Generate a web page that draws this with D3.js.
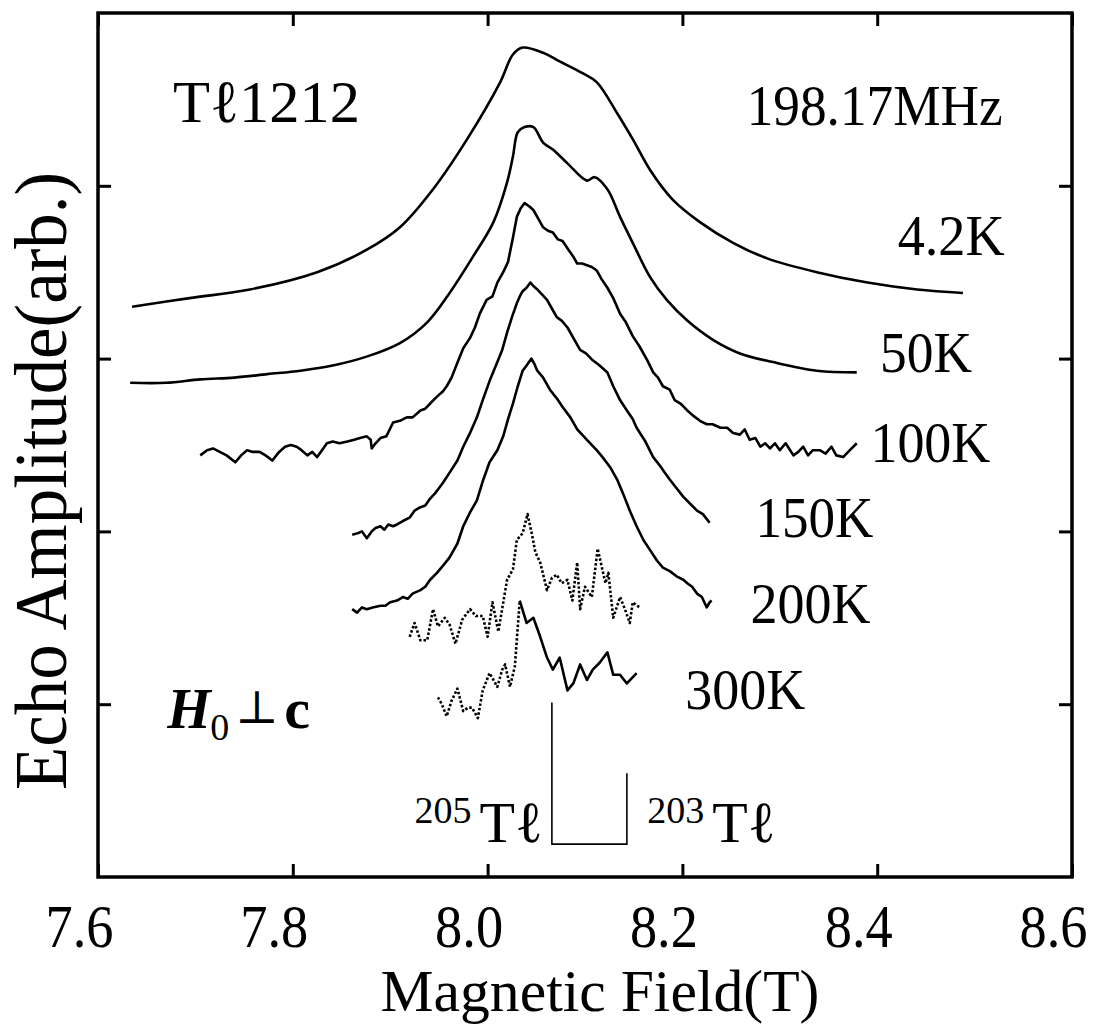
<!DOCTYPE html>
<html lang="en">
<head>
    <meta charset="UTF-8">
    <title>Tl1212 NMR spectra</title>
    <script src="https://cdn.jsdelivr.net/npm/d3@7"></script>
    <style>
        body { margin: 0; background: #fff; }
    </style>
</head>
<body>
    <div id="chart"></div>
    <script>
        // tick values
        let fieldTicks = [7.6, 7.8, 8.0, 8.2, 8.4, 8.6]
        let ampTicks = [1, 2, 3, 4]

        // spectra, [field (T), echo amplitude (arb.)]
        let echo42K = [[7.635,3.30],[7.694,3.35],[7.756,3.40],[7.825,3.50],[7.876,3.63],[7.910,3.76],[7.944,3.98],[7.979,4.27],[8.013,4.60],[8.026,4.76],[8.036,4.80],[8.057,4.77],[8.074,4.72],[8.098,4.65],[8.112,4.60],[8.133,4.42],[8.149,4.27],[8.167,4.09],[8.190,3.92],[8.218,3.79],[8.252,3.67],[8.287,3.58],[8.338,3.50],[8.390,3.44],[8.441,3.40],[8.488,3.38]]

        let echo50K = [[7.633,2.86],[7.670,2.86],[7.705,2.88],[7.740,2.89],[7.774,2.91],[7.808,2.93],[7.841,2.96],[7.875,3.01],[7.910,3.09],[7.938,3.21],[7.961,3.38],[7.985,3.59],[8.006,3.79],[8.020,4.02],[8.026,4.17],[8.031,4.31],[8.038,4.34],[8.047,4.34],[8.057,4.25],[8.067,4.21],[8.082,4.13],[8.102,4.03],[8.110,4.05],[8.123,3.98],[8.136,3.82],[8.149,3.67],[8.167,3.47],[8.184,3.34],[8.205,3.22],[8.231,3.11],[8.259,3.03],[8.293,2.98],[8.338,2.93],[8.379,2.92]]

        let echo100K = [[7.705,2.44],[7.712,2.47],[7.718,2.48],[7.725,2.46],[7.732,2.44],[7.741,2.40],[7.747,2.44],[7.753,2.47],[7.759,2.46],[7.766,2.46],[7.772,2.44],[7.779,2.41],[7.786,2.46],[7.792,2.49],[7.798,2.50],[7.804,2.49],[7.809,2.47],[7.815,2.44],[7.820,2.46],[7.825,2.43],[7.830,2.47],[7.835,2.51],[7.841,2.52],[7.848,2.51],[7.856,2.52],[7.863,2.53],[7.869,2.54],[7.876,2.55],[7.880,2.53],[7.881,2.48],[7.885,2.51],[7.890,2.54],[7.896,2.55],[7.903,2.63],[7.910,2.64],[7.917,2.66],[7.923,2.66],[7.931,2.70],[7.936,2.71],[7.941,2.74],[7.948,2.78],[7.954,2.81],[7.958,2.84],[7.963,2.89],[7.970,2.99],[7.975,3.06],[7.982,3.12],[7.987,3.18],[7.992,3.26],[7.999,3.34],[8.005,3.36],[8.010,3.44],[8.016,3.50],[8.021,3.56],[8.026,3.70],[8.030,3.82],[8.034,3.87],[8.038,3.90],[8.043,3.88],[8.047,3.86],[8.052,3.81],[8.057,3.76],[8.062,3.74],[8.067,3.73],[8.072,3.69],[8.077,3.68],[8.083,3.63],[8.088,3.59],[8.092,3.55],[8.097,3.55],[8.102,3.54],[8.107,3.53],[8.112,3.51],[8.117,3.46],[8.123,3.41],[8.129,3.35],[8.136,3.26],[8.142,3.21],[8.149,3.13],[8.156,3.07],[8.164,2.99],[8.170,2.92],[8.175,2.89],[8.180,2.84],[8.187,2.82],[8.192,2.76],[8.198,2.74],[8.205,2.70],[8.211,2.67],[8.218,2.64],[8.225,2.62],[8.231,2.62],[8.239,2.60],[8.246,2.60],[8.252,2.57],[8.259,2.56],[8.264,2.59],[8.269,2.53],[8.275,2.54],[8.280,2.49],[8.285,2.51],[8.290,2.48],[8.295,2.51],[8.300,2.47],[8.306,2.51],[8.314,2.44],[8.319,2.46],[8.324,2.49],[8.329,2.44],[8.334,2.47],[8.341,2.47],[8.347,2.45],[8.353,2.49],[8.358,2.44],[8.365,2.43],[8.372,2.47],[8.379,2.51]]

        let echo150K = [[7.861,1.98],[7.867,1.99],[7.871,2.00],[7.876,1.96],[7.881,2.00],[7.885,2.02],[7.890,2.03],[7.894,2.01],[7.898,2.04],[7.903,2.03],[7.907,2.04],[7.913,2.06],[7.920,2.08],[7.925,2.12],[7.931,2.14],[7.936,2.15],[7.941,2.19],[7.946,2.22],[7.950,2.25],[7.954,2.28],[7.961,2.34],[7.969,2.41],[7.975,2.49],[7.982,2.57],[7.989,2.66],[7.995,2.76],[8.002,2.87],[8.010,2.98],[8.015,3.05],[8.020,3.15],[8.025,3.24],[8.030,3.32],[8.033,3.36],[8.036,3.39],[8.040,3.41],[8.044,3.44],[8.047,3.42],[8.051,3.40],[8.056,3.37],[8.061,3.34],[8.066,3.29],[8.071,3.24],[8.076,3.22],[8.082,3.18],[8.088,3.12],[8.095,3.05],[8.101,3.03],[8.108,2.99],[8.115,2.96],[8.123,2.92],[8.129,2.84],[8.136,2.76],[8.143,2.70],[8.149,2.65],[8.153,2.60],[8.162,2.52],[8.170,2.43],[8.177,2.38],[8.182,2.34],[8.187,2.30],[8.194,2.25],[8.201,2.20],[8.208,2.16],[8.215,2.12],[8.221,2.10],[8.228,2.05]]

        let echo200K = [[7.861,1.55],[7.866,1.53],[7.871,1.56],[7.876,1.55],[7.882,1.56],[7.890,1.57],[7.895,1.57],[7.900,1.59],[7.907,1.60],[7.913,1.62],[7.918,1.61],[7.923,1.64],[7.931,1.66],[7.936,1.68],[7.941,1.72],[7.948,1.76],[7.954,1.80],[7.961,1.85],[7.969,1.93],[7.975,2.03],[7.982,2.11],[7.989,2.18],[7.995,2.29],[8.002,2.40],[8.010,2.47],[8.016,2.55],[8.021,2.65],[8.026,2.74],[8.031,2.84],[8.036,2.93],[8.040,2.96],[8.045,3.00],[8.048,2.97],[8.051,2.93],[8.057,2.89],[8.064,2.82],[8.071,2.77],[8.077,2.72],[8.085,2.66],[8.092,2.59],[8.102,2.53],[8.112,2.47],[8.118,2.43],[8.126,2.37],[8.133,2.30],[8.139,2.22],[8.146,2.12],[8.153,2.03],[8.160,1.95],[8.167,1.89],[8.174,1.83],[8.180,1.79],[8.187,1.77],[8.194,1.74],[8.201,1.72],[8.205,1.70],[8.210,1.68],[8.215,1.64],[8.220,1.62],[8.225,1.56],[8.228,1.59],[8.230,1.60]]

        let echo300Ka = [[7.920,1.39],[7.925,1.47],[7.931,1.37],[7.938,1.37],[7.944,1.55],[7.949,1.45],[7.956,1.50],[7.961,1.46],[7.967,1.35],[7.974,1.49],[7.982,1.55],[7.988,1.51],[7.995,1.51],[8.000,1.39],[8.005,1.59],[8.011,1.42],[8.020,1.72],[8.026,1.78],[8.030,1.95],[8.036,1.99],[8.041,2.10],[8.046,1.97],[8.049,1.88],[8.054,1.82],[8.061,1.66],[8.066,1.73],[8.071,1.75],[8.076,1.70],[8.082,1.72],[8.087,1.60],[8.092,1.82],[8.095,1.55],[8.100,1.68],[8.107,1.62],[8.113,1.90],[8.121,1.70],[8.124,1.76],[8.129,1.50],[8.136,1.62],[8.141,1.55],[8.146,1.47],[8.149,1.59],[8.156,1.56]]

        let echo300Kb = [[7.949,1.04],[7.953,1.00],[7.958,0.93],[7.963,1.02],[7.969,1.09],[7.975,0.96],[7.980,0.98],[7.984,0.98],[7.990,0.92],[7.995,1.08],[8.002,1.18],[8.010,1.10],[8.015,1.20],[8.018,1.23],[8.023,1.10],[8.028,1.22],[8.033,1.60],[8.040,1.47],[8.047,1.50],[8.054,1.39],[8.061,1.27],[8.067,1.20],[8.074,1.27],[8.082,1.08],[8.088,1.12],[8.095,1.23],[8.102,1.14],[8.108,1.20],[8.115,1.24],[8.123,1.30],[8.129,1.17],[8.136,1.17],[8.143,1.12],[8.153,1.18]]

        // isotope resonance sticks
        let isotopes = ['205Tℓ', '203Tℓ']
        let stickField = [8.066, 8.143]
        let stickTop = [1.01, 0.60]
        let stickBase = 0.19

        let tempLabels = ['4.2K', '50K', '100K', '150K', '200K', '300K']

        let w = 1097
        let h = 1029
        let serif = "'Liberation Serif', 'DejaVu Serif', 'Times New Roman', Times, serif"

        let x = d3.scaleLinear().domain([7.6, 8.6]).range([98, 1072])
        let y = d3.scaleLinear().domain([0, 5]).range([877, 13])

        let svg = d3.select('#chart').append('svg')
            .attr('width', w)
            .attr('height', h)
            .style('font-family', serif)

        //ticks on all four sides, pointing in
        let bottom = svg.append('g')
            .attr('transform', `translate(0,${y(0)})`)
            .call(d3.axisBottom(x).tickValues(fieldTicks).tickSize(-13).tickSizeOuter(0).tickFormat(d3.format('.1f')))
        bottom.attr('font-family', null)
        bottom.selectAll('text')
            .attr('y', 70)
            .attr('dy', 0)
            .attr('dx', -19)
            .attr('font-size', 62)
            .attr('textLength', 68)
            .attr('lengthAdjust', 'spacingAndGlyphs')

        svg.append('g')
            .attr('transform', `translate(0,${y(5)})`)
            .call(d3.axisTop(x).tickValues(fieldTicks).tickSize(-13).tickSizeOuter(0).tickFormat(''))
        svg.append('g')
            .attr('transform', `translate(${x(7.6)},0)`)
            .call(d3.axisLeft(y).tickValues(ampTicks).tickSize(-13).tickSizeOuter(0).tickFormat(''))
        svg.append('g')
            .attr('transform', `translate(${x(8.6)},0)`)
            .call(d3.axisRight(y).tickValues(ampTicks).tickSize(-13).tickSizeOuter(0).tickFormat(''))

        svg.selectAll('.domain').remove()
        svg.selectAll('.tick line').attr('stroke', '#000').attr('stroke-width', 3)

        svg.append('rect')
            .attr('x', x(7.6))
            .attr('y', y(5))
            .attr('width', x(8.6) - x(7.6))
            .attr('height', y(0) - y(5))
            .attr('fill', 'none')
            .attr('stroke', '#000')
            .attr('stroke-width', 3.5)

        //axis titles
        svg.append('text')
            .attr('x', 600)
            .attr('y', 1011)
            .attr('text-anchor', 'middle')
            .attr('font-size', 60)
            .attr('textLength', 439)
            .attr('lengthAdjust', 'spacingAndGlyphs')
            .text('Magnetic Field(T)')

        svg.append('text')
            .attr('transform', 'translate(66,481) rotate(-90)')
            .attr('text-anchor', 'middle')
            .attr('font-size', 74)
            .attr('textLength', 618)
            .attr('lengthAdjust', 'spacingAndGlyphs')
            .text('Echo Amplitude(arb.)')

        //spectra
        let smooth = d3.line().x(d => x(d[0])).y(d => y(d[1])).curve(d3.curveCatmullRom)
        let raw = d3.line().x(d => x(d[0])).y(d => y(d[1]))

        let traces = [
            {data: echo42K, line: smooth, dash: null},
            {data: echo50K, line: smooth, dash: null},
            {data: echo100K, line: raw, dash: null},
            {data: echo150K, line: raw, dash: null},
            {data: echo200K, line: raw, dash: null},
            {data: echo300Ka, line: raw, dash: '2.5,2'},
            // 300K scan: dotted on the low-field side, solid after the peak
            {data: echo300Kb.filter(d => d[0] <= 8.033), line: raw, dash: '2.5,2'},
            {data: echo300Kb.filter(d => d[0] >= 8.033), line: raw, dash: null}
        ]

        svg.selectAll('path.trace')
            .data(traces)
            .enter()
            .append('path')
            .attr('class', 'trace')
            .attr('d', d => d.line(d.data))
            .attr('fill', 'none')
            .attr('stroke', '#000')
            .attr('stroke-width', 2.6)
            .attr('stroke-linejoin', 'round')
            .attr('stroke-dasharray', d => d.dash)

        //the two isotope sticks, joined at the bottom
        let sticks = stickField.map((f, i) => [[f, stickTop[i]], [f, stickBase]])
        svg.append('path')
            .attr('d', raw([sticks[0][0], sticks[0][1], sticks[1][1], sticks[1][0]]))
            .attr('fill', 'none')
            .attr('stroke', '#000')
            .attr('stroke-width', 1.6)

        //labels
        let label = (fx, ay, txt, size, len) => svg.append('text')
            .attr('x', x(fx))
            .attr('y', y(ay))
            .attr('font-size', size)
            .attr('textLength', len)
            .attr('lengthAdjust', 'spacingAndGlyphs')
            .text(txt)

        label(7.677, 4.37, 'Tℓ1212', 60, 187)
        label(8.266, 4.35, '198.17MHz', 56, 256)

        let tempPos = [[8.421, 3.60, 107], [8.403, 2.92, 92], [8.393, 2.40, 120],
                       [8.275, 1.97, 118], [8.270, 1.47, 120], [8.203, 0.97, 120]]
        tempLabels.forEach((t, i) => label(tempPos[i][0], tempPos[i][1], t, 58, tempPos[i][2]))

        // H0 ⊥ c
        let hx = x(7.671)
        let hy = y(0.86)
        svg.append('text').attr('x', hx).attr('y', hy).attr('font-size', 56)
            .attr('font-style', 'italic').attr('font-weight', 'bold').text('H')
        svg.append('text').attr('x', hx + 43).attr('y', hy + 12).attr('font-size', 38).text('0')
        svg.append('text').attr('x', hx + 68).attr('y', hy - 5).attr('font-size', 46)
            .style('font-family', "'DejaVu Serif', serif").text('⊥')
        svg.append('text').attr('x', hx + 117).attr('y', hy).attr('font-size', 58)
            .attr('font-weight', 'bold').text('c')

        // isotope names
        let isoPos = [7.925, 8.164]
        isotopes.forEach((name, i) => {
            let t = svg.append('text')
                .attr('x', x(isoPos[i]))
                .attr('y', y(0.20))
            t.append('tspan').attr('font-size', 38).attr('dy', -19).text(name.slice(0, 3))
            t.append('tspan').attr('font-size', 58).attr('dy', 19).attr('dx', 8).text(name.slice(3))
        })
    </script>
</body>
</html>
